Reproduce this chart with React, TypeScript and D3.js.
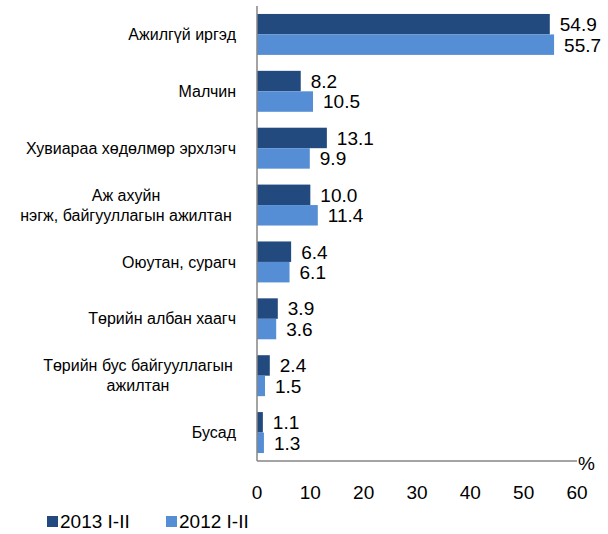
import React from "react";
import * as d3 from "d3";

const categories: string[][] = [
  ["Ажилгүй иргэд"],
  ["Малчин"],
  ["Хувиараа хөдөлмөр  эрхлэгч"],
  ["Аж ахуйн", "нэгж, байгууллагын  ажилтан"],
  ["Оюутан,  сурагч"],
  ["Төрийн албан  хаагч"],
  ["Төрийн бус  байгууллагын", "ажилтан"],
  ["Бусад"],
];
const series2013 = [54.9, 8.2, 13.1, 10.0, 6.4, 3.9, 2.4, 1.1];
const series2012 = [55.7, 10.5, 9.9, 11.4, 6.1, 3.6, 1.5, 1.3];
const seriesNames = ["2013 I-II", "2012 I-II"];
const xTicks = [0, 10, 20, 30, 40, 50, 60];
const colors = ["#234a7e", "#558ed5"];

export default function App() {
  const W = 608, H = 534;
  const left = 257, right = 577, top = 6, bottom = 461;
  const x = d3.scaleLinear().domain([0, 60]).range([left, right]);
  const y = d3.scaleBand<number>().domain(d3.range(categories.length)).range([top, bottom]).paddingInner(0.28).paddingOuter(0.14);
  const bw = y.bandwidth() / 2;
  const font = "'Liberation Sans', Arial, sans-serif";
  const data = [series2013, series2012];
  return (
    <svg width={W} height={H} style={{ position: "absolute", left: 0, top: 0, whiteSpace: "pre" }} fontFamily={font}>
      <rect width={W} height={H} fill="#fff" />
      {data.map((s, si) =>
        s.map((v, i) => (
          <g key={`${si}-${i}`}>
            <rect x={x(0)} y={(y(i) as number) + si * bw} width={x(v) - x(0)} height={bw} fill={colors[si]} />
            <text x={x(v) + 10} y={(y(i) as number) + si * bw + bw / 2} dy="0.36em" fontSize={19} fill="#000">
              {v.toFixed(1)}
            </text>
          </g>
        ))
      )}
      {categories.map((lines, i) => {
        const cy = (y(i) as number) + bw;
        if (lines.length === 1) {
          return (
            <text key={i} x={236} y={cy} dy="0.35em" textAnchor="end" fontSize={16} fill="#000">
              {lines[0]}
            </text>
          );
        }
        return (
          <text key={i} x={0} y={cy} fontSize={16} fill="#000" textAnchor="middle">
            {lines.map((l, li) => (
              <tspan key={li} x={i === 3 ? 126 : 138} y={cy + (li - 0.5) * 20} dy="0.35em">
                {l}
              </tspan>
            ))}
          </text>
        );
      })}
      <line x1={left} x2={left} y1={top} y2={bottom} stroke="#868686" strokeWidth={1.5} />
      <line x1={left} x2={right} y1={bottom} y2={bottom} stroke="#868686" strokeWidth={1.5} />
      <text x={right + 1} y={bottom + 2} dy="0.35em" fontSize={19} fill="#000">%</text>
      {xTicks.map((t) => (
        <text key={t} x={x(t)} y={492} dy="0.36em" textAnchor="middle" fontSize={19} fill="#000">
          {t}
        </text>
      ))}
      {seriesNames.map((n, i) => (
        <g key={n} transform={`translate(${47 + i * 119},0)`}>
          <rect x={0} y={516} width={11} height={11} fill={colors[i]} />
          <text x={13} y={521.5} dy="0.36em" fontSize={19} fill="#000">{n}</text>
        </g>
      ))}
    </svg>
  );
}
